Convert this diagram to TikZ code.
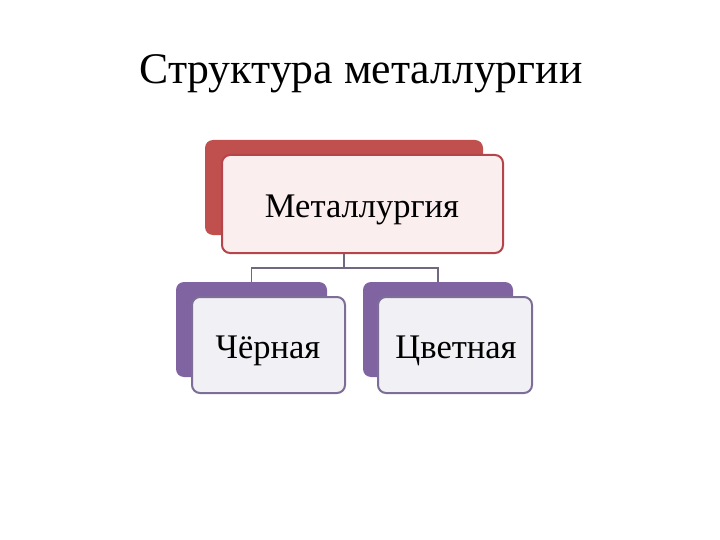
\documentclass[tikz,border=0pt]{standalone}
\usepackage{fontspec}
\setmainfont{Liberation Serif}
\usetikzlibrary{positioning,calc}
\definecolor{redback}{HTML}{C0504D}
\definecolor{redline}{HTML}{B5454A}
\definecolor{redfill}{HTML}{FBEEEE}
\definecolor{violback}{HTML}{8064A2}
\definecolor{violline}{HTML}{7D6E98}
\definecolor{violfill}{HTML}{F1F0F5}
\definecolor{linkgray}{HTML}{6F687E}

\begin{document}
\begin{tikzpicture}[x=1pt,y=-1pt]
\tikzstyle{back}=[rectangle, rounded corners=8pt, inner sep=0pt]
\tikzstyle{front}=[rectangle, rounded corners=8pt, inner sep=0pt, line width=2pt]
\tikzstyle{label}=[font=\fontsize{34.5}{38}\selectfont]
\tikzstyle{link}=[draw=linkgray, line width=1.5pt]
\useasboundingbox (0,0) rectangle (720,540);

\node (title) at (361,74) {\fontsize{43.7}{48}\selectfont Структура металлургии};

% top
\node[back, fill=redback, minimum width=278pt, minimum height=95pt] (top_back) at (344,187.5) {};
\node[front, draw=redline, fill=redfill, minimum width=281pt, minimum height=98pt] (top_front) at (362.5,204) {};
\node[label] (top_text) at (362,210) {Металлургия};

% connectors
\coordinate (split) at ($(top_back.south |- top_front.south)+(0,14)$);
\coordinate (left_end) at (251.5,282);
\coordinate (right_end) at (438,282);
\draw[link] (top_back.south |- top_front.south) -- (split);
\draw[link] (split) -| (left_end);
\draw[link] (split) -| (right_end);

% bottom
\node[back, fill=violback, minimum width=151pt, minimum height=95pt] (black_back) at (251.5,329.5) {};
\node[front, draw=violline, fill=violfill, minimum width=153pt, minimum height=96pt] (black_front) at (268.5,345) {};
\node[label] (black_text) at (268,351) {Чёрная};

\node[back, fill=violback, minimum width=150pt, minimum height=95pt] (color_back) at (438,329.5) {};
\node[front, draw=violline, fill=violfill, minimum width=154pt, minimum height=96pt] (color_front) at (455,345) {};
\node[label] (color_text) at (456,351) {Цветная};
\end{tikzpicture}
\end{document}
